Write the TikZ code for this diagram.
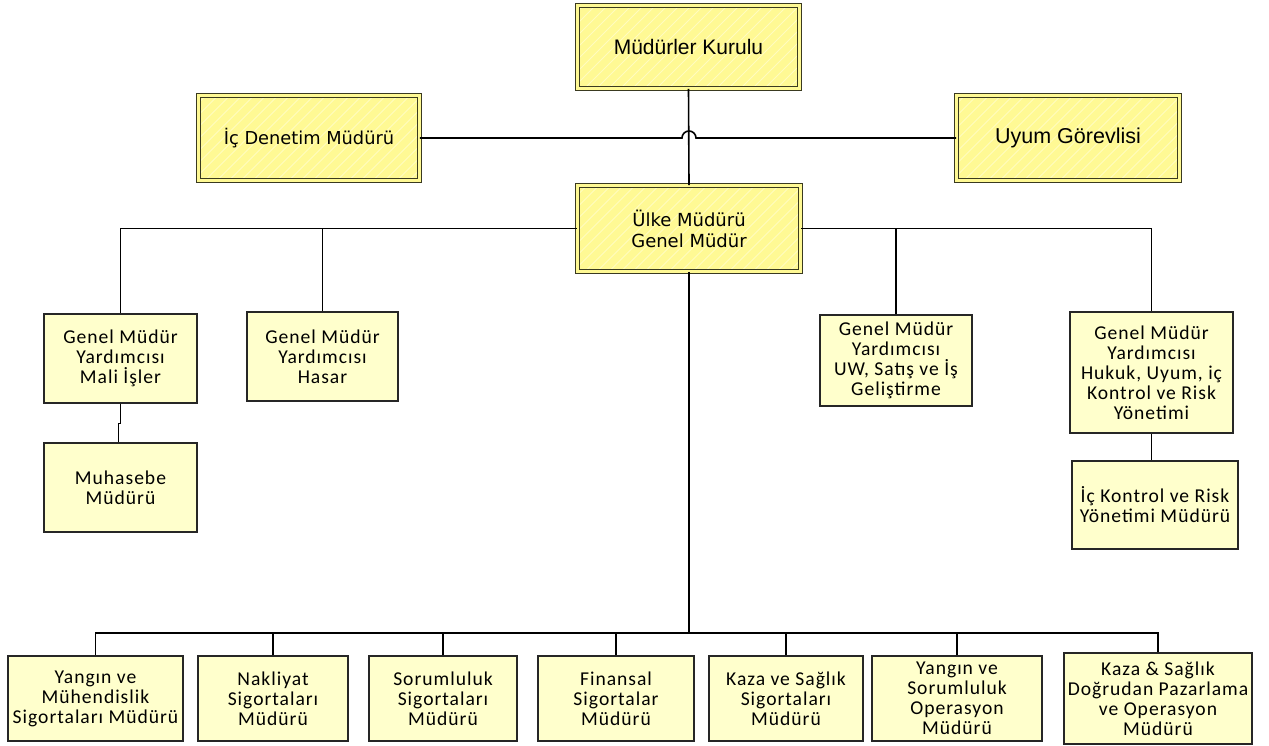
\documentclass[tikz,border=0pt]{standalone}
\usepackage{fontspec}
\usetikzlibrary{calc}
\setmainfont{Carlito}[LetterSpace=5]
\newfontfamily\arialf{Liberation Sans}
\newfontfamily\tahf{DejaVu Sans}
\definecolor{boxfill}{HTML}{FFFFCC}
\definecolor{dblfill}{HTML}{FFF994}
\definecolor{stripe}{HTML}{FFFCC0}
\definecolor{dblline}{HTML}{3A3A20}
\tikzset{
  conn/.style={line width=1.6pt, black},
  smallbox/.style={draw=black!85, line width=1.3pt, fill=boxfill, inner sep=0pt,
    align=center, font=\fontsize{19.6}{20}\selectfont},
  dblbox/.style={draw=dblline, line width=0.9pt, double=dblfill, double distance=3.2pt,
    fill=dblfill, inner sep=0pt, align=center,
    path picture={
      \foreach \i in {-320,-308,...,320}
        \draw[stripe, line width=1pt] ([xshift=\i pt]path picture bounding box.south) -- ++(120pt,120pt);
    }},
}
\begin{document}
\begin{tikzpicture}[x=1pt,y=-1pt]
\useasboundingbox (0,0) rectangle (1269,745);

% top double boxes
\node[dblbox, minimum width=222, minimum height=83, font=\arialf\fontsize{21}{24}\selectfont] (mk) at (688.5,47) {Müdürler Kurulu};
\node[dblbox, minimum width=221, minimum height=85, font=\tahf\fontsize{17.8}{21}\selectfont] (ic) at (309,138) {İç Denetim Müdürü};
\node[dblbox, minimum width=223, minimum height=85, font=\arialf\fontsize{21.5}{24}\selectfont] (uy) at (1068,138) {Uyum Görevlisi};
\node[dblbox, minimum width=223, minimum height=86, font=\tahf\fontsize{18}{21}\selectfont] (ulke) at (689,228.5) {Ülke Müdürü\\Genel Müdür};

% second level
\node[smallbox, minimum width=153, minimum height=89] (mali) at (120.5,358.5) {Genel Müdür\\Yardımcısı\\Mali İşler};
\node[smallbox, minimum width=153, minimum height=89] (muh) at (120.5,487.5) {Muhasebe\\Müdürü};
\node[smallbox, minimum width=151, minimum height=89] (has) at (322.5,356.5) {Genel Müdür\\Yardımcısı\\Hasar};
\node[smallbox, minimum width=152, minimum height=91] (uw) at (896,360.5) {Genel Müdür\\Yardımcısı\\UW, Satış ve İş\\Geliştirme};
\node[smallbox, minimum width=163, minimum height=121] (huk) at (1151.5,372.5) {Genel Müdür\\Yardımcısı\\Hukuk, Uyum, iç\\Kontrol ve Risk\\Yönetimi};
\node[smallbox, minimum width=166, minimum height=88] (ick) at (1155,505) {İç Kontrol ve Risk\\Yönetimi Müdürü};

% bottom level
\node[smallbox, minimum width=175, minimum height=85] (b1) at (95.5,698.5) {Yangın ve\\Mühendislik\\Sigortaları Müdürü};
\node[smallbox, minimum width=150, minimum height=85] (b2) at (273,698.5) {Nakliyat\\Sigortaları\\Müdürü};
\node[smallbox, minimum width=148, minimum height=85] (b3) at (443,698.5) {Sorumluluk\\Sigortaları\\Müdürü};
\node[smallbox, minimum width=156, minimum height=85] (b4) at (616,698.5) {Finansal\\Sigortalar\\Müdürü};
\node[smallbox, minimum width=154, minimum height=85] (b5) at (786,698.5) {Kaza ve Sağlık\\Sigortaları\\Müdürü};
\node[smallbox, minimum width=170, minimum height=85] (b6) at (957,698.5) {Yangın ve\\Sorumluluk\\Operasyon\\Müdürü};
\node[smallbox, minimum width=188, minimum height=91] (b7) at (1158,698.5) {Kaza \& Sağlık\\Doğrudan Pazarlama\\ve Operasyon\\Müdürü};

% connectors
\coordinate (jump) at (689,138);
\coordinate (bus) at (689,633);
\draw[conn] (mk.south) -- (ulke.north);
\draw[conn] (ic.east) -- ([xshift=-7pt]jump) arc[start angle=180, end angle=0, radius=7pt] -- (uy.west);
\draw[conn] (mali.north) |- (ulke.west);
\draw[conn] (has.north) -- (has.north|-ulke.west);
\draw[conn] (huk.north) |- (ulke.east);
\draw[conn] (uw.north) -- (uw.north|-ulke.east);
\draw[conn] (mali.south) -- ++(0,20) -| ([xshift=-2pt]muh.north);
\draw[conn] (huk.south) -- (huk.south|-ick.north);
\draw[conn] (ulke.south) -- (bus);
\draw[conn] (b1.north) |- (bus);
\draw[conn] (b7.north) |- (bus);
\foreach \b in {b2,b3,b4,b5,b6}
  \draw[conn] (\b.north) -- (\b.north|-bus);
\end{tikzpicture}
\end{document}
